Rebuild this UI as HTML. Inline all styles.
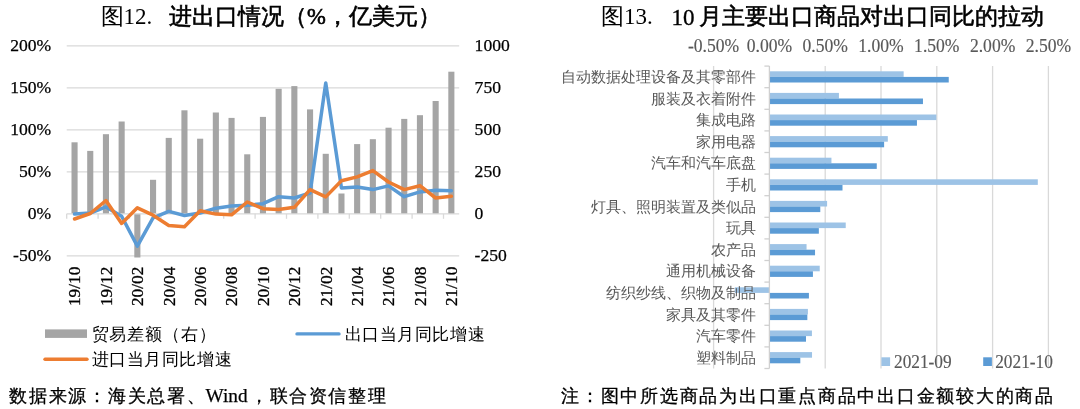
<!DOCTYPE html><html><head><meta charset="utf-8"><style>html,body{margin:0;padding:0;background:#fff;width:1080px;height:409px;overflow:hidden}svg{display:block;will-change:transform}</style></head><body>
<svg width="1080" height="409" viewBox="0 0 1080 409">
<text x="100.5" y="24.4" font-family="'Liberation Serif', serif" font-size="23" fill="#000">图12.</text>
<text x="169" y="23.7" font-family="'Liberation Sans', sans-serif" font-size="22.6" font-weight="400" stroke="#000" stroke-width="0.6" fill="#000">进出口情况（<tspan font-family="'Liberation Serif', serif">%</tspan>，亿美元）</text>
<line x1="66.7" x2="459.2" y1="45.8" y2="45.8" stroke="#d9d9d9" stroke-width="1.3"/>
<line x1="66.7" x2="459.2" y1="87.8" y2="87.8" stroke="#d9d9d9" stroke-width="1.3"/>
<line x1="66.7" x2="459.2" y1="129.8" y2="129.8" stroke="#d9d9d9" stroke-width="1.3"/>
<line x1="66.7" x2="459.2" y1="171.8" y2="171.8" stroke="#d9d9d9" stroke-width="1.3"/>
<line x1="66.7" x2="459.2" y1="255.8" y2="255.8" stroke="#d9d9d9" stroke-width="1.3"/>
<rect x="71.50" y="142.3" width="6.1" height="71.50" fill="#a5a5a5"/>
<rect x="87.20" y="150.9" width="6.1" height="62.90" fill="#a5a5a5"/>
<rect x="102.90" y="134.2" width="6.1" height="79.60" fill="#a5a5a5"/>
<rect x="118.60" y="121.5" width="6.1" height="92.30" fill="#a5a5a5"/>
<rect x="134.30" y="213.8" width="6.1" height="43.70" fill="#a5a5a5"/>
<rect x="150.00" y="179.8" width="6.1" height="34.00" fill="#a5a5a5"/>
<rect x="165.70" y="137.9" width="6.1" height="75.90" fill="#a5a5a5"/>
<rect x="181.40" y="110.3" width="6.1" height="103.50" fill="#a5a5a5"/>
<rect x="197.10" y="138.7" width="6.1" height="75.10" fill="#a5a5a5"/>
<rect x="212.80" y="112.5" width="6.1" height="101.30" fill="#a5a5a5"/>
<rect x="228.50" y="117.9" width="6.1" height="95.90" fill="#a5a5a5"/>
<rect x="244.20" y="154.3" width="6.1" height="59.50" fill="#a5a5a5"/>
<rect x="259.90" y="116.9" width="6.1" height="96.90" fill="#a5a5a5"/>
<rect x="275.60" y="88.8" width="6.1" height="125.00" fill="#a5a5a5"/>
<rect x="291.30" y="86.1" width="6.1" height="127.70" fill="#a5a5a5"/>
<rect x="307.00" y="109.4" width="6.1" height="104.40" fill="#a5a5a5"/>
<rect x="322.70" y="153.8" width="6.1" height="60.00" fill="#a5a5a5"/>
<rect x="338.40" y="193.5" width="6.1" height="20.30" fill="#a5a5a5"/>
<rect x="354.10" y="144.1" width="6.1" height="69.70" fill="#a5a5a5"/>
<rect x="369.80" y="139.2" width="6.1" height="74.60" fill="#a5a5a5"/>
<rect x="385.50" y="127.7" width="6.1" height="86.10" fill="#a5a5a5"/>
<rect x="401.20" y="118.9" width="6.1" height="94.90" fill="#a5a5a5"/>
<rect x="416.90" y="115.2" width="6.1" height="98.60" fill="#a5a5a5"/>
<rect x="432.60" y="101" width="6.1" height="112.80" fill="#a5a5a5"/>
<rect x="448.30" y="71.7" width="6.1" height="142.10" fill="#a5a5a5"/>
<line x1="66.7" x2="459.2" y1="213.8" y2="213.8" stroke="#d9d9d9" stroke-width="1.3"/>
<line x1="66.70" x2="66.70" y1="213.8" y2="218.8" stroke="#d9d9d9" stroke-width="1.3"/>
<line x1="98.10" x2="98.10" y1="213.8" y2="218.8" stroke="#d9d9d9" stroke-width="1.3"/>
<line x1="129.50" x2="129.50" y1="213.8" y2="218.8" stroke="#d9d9d9" stroke-width="1.3"/>
<line x1="160.90" x2="160.90" y1="213.8" y2="218.8" stroke="#d9d9d9" stroke-width="1.3"/>
<line x1="192.30" x2="192.30" y1="213.8" y2="218.8" stroke="#d9d9d9" stroke-width="1.3"/>
<line x1="223.70" x2="223.70" y1="213.8" y2="218.8" stroke="#d9d9d9" stroke-width="1.3"/>
<line x1="255.10" x2="255.10" y1="213.8" y2="218.8" stroke="#d9d9d9" stroke-width="1.3"/>
<line x1="286.50" x2="286.50" y1="213.8" y2="218.8" stroke="#d9d9d9" stroke-width="1.3"/>
<line x1="317.90" x2="317.90" y1="213.8" y2="218.8" stroke="#d9d9d9" stroke-width="1.3"/>
<line x1="349.30" x2="349.30" y1="213.8" y2="218.8" stroke="#d9d9d9" stroke-width="1.3"/>
<line x1="380.70" x2="380.70" y1="213.8" y2="218.8" stroke="#d9d9d9" stroke-width="1.3"/>
<line x1="412.10" x2="412.10" y1="213.8" y2="218.8" stroke="#d9d9d9" stroke-width="1.3"/>
<line x1="443.50" x2="443.50" y1="213.8" y2="218.8" stroke="#d9d9d9" stroke-width="1.3"/>
<polyline points="74.55,214.1 90.25,213 105.95,206.9 121.65,216.3 137.35,246.1 153.05,217.9 168.75,211.4 184.45,215.5 200.15,213 215.85,208.2 231.55,206 247.25,205.3 262.95,203.7 278.65,196.7 294.35,198 310.05,193 325.75,83 341.45,187.9 357.15,187 372.85,189.6 388.55,185.9 404.25,196.7 419.95,191.9 435.65,190.3 451.35,190.7" fill="none" stroke="#5b9bd5" stroke-width="3.5" stroke-linejoin="round" stroke-linecap="round"/>
<polyline points="74.55,219 90.25,213.5 105.95,200.5 121.65,223.4 137.35,207.8 153.05,215.2 168.75,225.5 184.45,226.7 200.15,210.8 215.85,214.1 231.55,214.8 247.25,202 262.95,208.7 278.65,209.6 294.35,207.3 310.05,189.6 325.75,196.9 341.45,180.8 357.15,176.9 372.85,170.6 388.55,182 404.25,189.6 419.95,185.7 435.65,198 451.35,196.3" fill="none" stroke="#ed7d31" stroke-width="3.5" stroke-linejoin="round" stroke-linecap="round"/>
<text transform="translate(51.2,51.2) scale(1,1.0)" text-anchor="end" font-family="'Liberation Serif', serif" font-size="17.6" stroke="#000" stroke-width="0.25" fill="#000">200%</text>
<text transform="translate(474.6,51.2) scale(1,1.0)" font-family="'Liberation Serif', serif" font-size="17.6" stroke="#000" stroke-width="0.25" fill="#000">1000</text>
<text transform="translate(51.2,93.2) scale(1,1.0)" text-anchor="end" font-family="'Liberation Serif', serif" font-size="17.6" stroke="#000" stroke-width="0.25" fill="#000">150%</text>
<text transform="translate(474.6,93.2) scale(1,1.0)" font-family="'Liberation Serif', serif" font-size="17.6" stroke="#000" stroke-width="0.25" fill="#000">750</text>
<text transform="translate(51.2,135.2) scale(1,1.0)" text-anchor="end" font-family="'Liberation Serif', serif" font-size="17.6" stroke="#000" stroke-width="0.25" fill="#000">100%</text>
<text transform="translate(474.6,135.2) scale(1,1.0)" font-family="'Liberation Serif', serif" font-size="17.6" stroke="#000" stroke-width="0.25" fill="#000">500</text>
<text transform="translate(51.2,177.2) scale(1,1.0)" text-anchor="end" font-family="'Liberation Serif', serif" font-size="17.6" stroke="#000" stroke-width="0.25" fill="#000">50%</text>
<text transform="translate(474.6,177.2) scale(1,1.0)" font-family="'Liberation Serif', serif" font-size="17.6" stroke="#000" stroke-width="0.25" fill="#000">250</text>
<text transform="translate(51.2,219.2) scale(1,1.0)" text-anchor="end" font-family="'Liberation Serif', serif" font-size="17.6" stroke="#000" stroke-width="0.25" fill="#000">0%</text>
<text transform="translate(474.6,219.2) scale(1,1.0)" font-family="'Liberation Serif', serif" font-size="17.6" stroke="#000" stroke-width="0.25" fill="#000">0</text>
<text transform="translate(51.2,261.2) scale(1,1.0)" text-anchor="end" font-family="'Liberation Serif', serif" font-size="17.6" stroke="#000" stroke-width="0.25" fill="#000">-50%</text>
<text transform="translate(474.6,261.2) scale(1,1.0)" font-family="'Liberation Serif', serif" font-size="17.6" stroke="#000" stroke-width="0.25" fill="#000">-250</text>
<text transform="translate(80.35,266.7) rotate(-90)" text-anchor="end" font-family="'Liberation Serif', serif" font-size="17.3" stroke="#000" stroke-width="0.3" fill="#000">19/10</text>
<text transform="translate(111.75,266.7) rotate(-90)" text-anchor="end" font-family="'Liberation Serif', serif" font-size="17.3" stroke="#000" stroke-width="0.3" fill="#000">19/12</text>
<text transform="translate(143.15,266.7) rotate(-90)" text-anchor="end" font-family="'Liberation Serif', serif" font-size="17.3" stroke="#000" stroke-width="0.3" fill="#000">20/02</text>
<text transform="translate(174.55,266.7) rotate(-90)" text-anchor="end" font-family="'Liberation Serif', serif" font-size="17.3" stroke="#000" stroke-width="0.3" fill="#000">20/04</text>
<text transform="translate(205.95,266.7) rotate(-90)" text-anchor="end" font-family="'Liberation Serif', serif" font-size="17.3" stroke="#000" stroke-width="0.3" fill="#000">20/06</text>
<text transform="translate(237.35,266.7) rotate(-90)" text-anchor="end" font-family="'Liberation Serif', serif" font-size="17.3" stroke="#000" stroke-width="0.3" fill="#000">20/08</text>
<text transform="translate(268.75,266.7) rotate(-90)" text-anchor="end" font-family="'Liberation Serif', serif" font-size="17.3" stroke="#000" stroke-width="0.3" fill="#000">20/10</text>
<text transform="translate(300.15,266.7) rotate(-90)" text-anchor="end" font-family="'Liberation Serif', serif" font-size="17.3" stroke="#000" stroke-width="0.3" fill="#000">20/12</text>
<text transform="translate(331.55,266.7) rotate(-90)" text-anchor="end" font-family="'Liberation Serif', serif" font-size="17.3" stroke="#000" stroke-width="0.3" fill="#000">21/02</text>
<text transform="translate(362.95,266.7) rotate(-90)" text-anchor="end" font-family="'Liberation Serif', serif" font-size="17.3" stroke="#000" stroke-width="0.3" fill="#000">21/04</text>
<text transform="translate(394.35,266.7) rotate(-90)" text-anchor="end" font-family="'Liberation Serif', serif" font-size="17.3" stroke="#000" stroke-width="0.3" fill="#000">21/06</text>
<text transform="translate(425.75,266.7) rotate(-90)" text-anchor="end" font-family="'Liberation Serif', serif" font-size="17.3" stroke="#000" stroke-width="0.3" fill="#000">21/08</text>
<text transform="translate(457.15,266.7) rotate(-90)" text-anchor="end" font-family="'Liberation Serif', serif" font-size="17.3" stroke="#000" stroke-width="0.3" fill="#000">21/10</text>
<rect x="45" y="329.4" width="42" height="8.5" fill="#a5a5a5"/>
<text x="91.5" y="339.8" font-family="'Liberation Serif', serif" font-size="17" textLength="124" lengthAdjust="spacing" fill="#000">贸易差额（右）</text>
<line x1="297" x2="339" y1="333.9" y2="333.9" stroke="#5b9bd5" stroke-width="3.4" stroke-linecap="round"/>
<text x="344.5" y="339.8" font-family="'Liberation Serif', serif" font-size="17" textLength="140" lengthAdjust="spacing" fill="#000">出口当月同比增速</text>
<line x1="45" x2="87" y1="359.2" y2="359.2" stroke="#ed7d31" stroke-width="3.4" stroke-linecap="round"/>
<text x="91.5" y="365.1" font-family="'Liberation Serif', serif" font-size="17" textLength="140" lengthAdjust="spacing" fill="#000">进口当月同比增速</text>
<text x="9" y="402" font-family="'Liberation Serif', serif" font-size="18" stroke="#000" stroke-width="0.3" textLength="196" lengthAdjust="spacing" fill="#000">数据来源：海关总署、</text>
<text x="205.5" y="402" font-family="'Liberation Serif', serif" font-size="19.3" stroke="#000" stroke-width="0.25" fill="#000">Wind</text>
<text x="250" y="402" font-family="'Liberation Serif', serif" font-size="18" stroke="#000" stroke-width="0.3" textLength="135.5" lengthAdjust="spacing" fill="#000">，联合资信整理</text>
<text x="601" y="24.4" font-family="'Liberation Serif', serif" font-size="23" fill="#000">图13.</text>
<text x="671.5" y="24.6" font-family="'Liberation Serif', serif" font-size="23" stroke="#000" stroke-width="0.35" fill="#000">10</text>
<text x="699" y="23.7" font-family="'Liberation Sans', sans-serif" font-size="22.9" font-weight="400" stroke="#000" stroke-width="0.6" fill="#000">月主要出口商品对出口同比的拉动</text>
<line x1="713.60" x2="713.60" y1="66.1" y2="368.5" stroke="#d9d9d9" stroke-width="1.3"/>
<text transform="translate(713.60,51.5) scale(1,1.08)" text-anchor="middle" font-family="'Liberation Serif', serif" font-size="17.6" stroke="#595959" stroke-width="0.15" fill="#595959">-0.50%</text>
<text transform="translate(769.40,51.5) scale(1,1.08)" text-anchor="middle" font-family="'Liberation Serif', serif" font-size="17.6" stroke="#595959" stroke-width="0.15" fill="#595959">0.00%</text>
<line x1="825.20" x2="825.20" y1="66.1" y2="368.5" stroke="#d9d9d9" stroke-width="1.3"/>
<text transform="translate(825.20,51.5) scale(1,1.08)" text-anchor="middle" font-family="'Liberation Serif', serif" font-size="17.6" stroke="#595959" stroke-width="0.15" fill="#595959">0.50%</text>
<line x1="881.00" x2="881.00" y1="66.1" y2="368.5" stroke="#d9d9d9" stroke-width="1.3"/>
<text transform="translate(881.00,51.5) scale(1,1.08)" text-anchor="middle" font-family="'Liberation Serif', serif" font-size="17.6" stroke="#595959" stroke-width="0.15" fill="#595959">1.00%</text>
<line x1="936.80" x2="936.80" y1="66.1" y2="368.5" stroke="#d9d9d9" stroke-width="1.3"/>
<text transform="translate(936.80,51.5) scale(1,1.08)" text-anchor="middle" font-family="'Liberation Serif', serif" font-size="17.6" stroke="#595959" stroke-width="0.15" fill="#595959">1.50%</text>
<line x1="992.60" x2="992.60" y1="66.1" y2="368.5" stroke="#d9d9d9" stroke-width="1.3"/>
<text transform="translate(992.60,51.5) scale(1,1.08)" text-anchor="middle" font-family="'Liberation Serif', serif" font-size="17.6" stroke="#595959" stroke-width="0.15" fill="#595959">2.00%</text>
<line x1="1048.40" x2="1048.40" y1="66.1" y2="368.5" stroke="#d9d9d9" stroke-width="1.3"/>
<text transform="translate(1048.40,51.5) scale(1,1.08)" text-anchor="middle" font-family="'Liberation Serif', serif" font-size="17.6" stroke="#595959" stroke-width="0.15" fill="#595959">2.50%</text>
<rect x="769.40" y="71.30" width="134.25" height="5.6" fill="#9dc3e6"/>
<rect x="769.40" y="76.90" width="179.34" height="5.6" fill="#5b9bd5"/>
<rect x="769.40" y="92.90" width="69.53" height="5.6" fill="#9dc3e6"/>
<rect x="769.40" y="98.50" width="153.56" height="5.6" fill="#5b9bd5"/>
<rect x="769.40" y="114.50" width="166.95" height="5.6" fill="#9dc3e6"/>
<rect x="769.40" y="120.10" width="147.54" height="5.6" fill="#5b9bd5"/>
<rect x="769.40" y="136.10" width="118.41" height="5.6" fill="#9dc3e6"/>
<rect x="769.40" y="141.70" width="114.72" height="5.6" fill="#5b9bd5"/>
<rect x="769.40" y="157.70" width="62.05" height="5.6" fill="#9dc3e6"/>
<rect x="769.40" y="163.30" width="107.36" height="5.6" fill="#5b9bd5"/>
<rect x="769.40" y="179.30" width="268.40" height="5.6" fill="#9dc3e6"/>
<rect x="769.40" y="184.90" width="73.10" height="5.6" fill="#5b9bd5"/>
<rect x="769.40" y="200.90" width="57.70" height="5.6" fill="#9dc3e6"/>
<rect x="769.40" y="206.50" width="50.89" height="5.6" fill="#5b9bd5"/>
<rect x="769.40" y="222.50" width="76.33" height="5.6" fill="#9dc3e6"/>
<rect x="769.40" y="228.10" width="49.44" height="5.6" fill="#5b9bd5"/>
<rect x="769.40" y="244.10" width="37.16" height="5.6" fill="#9dc3e6"/>
<rect x="769.40" y="249.70" width="45.64" height="5.6" fill="#5b9bd5"/>
<rect x="769.40" y="265.70" width="50.33" height="5.6" fill="#9dc3e6"/>
<rect x="769.40" y="271.30" width="43.52" height="5.6" fill="#5b9bd5"/>
<rect x="734.80" y="287.30" width="34.60" height="5.6" fill="#9dc3e6"/>
<rect x="769.40" y="292.90" width="39.51" height="5.6" fill="#5b9bd5"/>
<rect x="769.40" y="308.90" width="38.50" height="5.6" fill="#9dc3e6"/>
<rect x="769.40" y="314.50" width="37.94" height="5.6" fill="#5b9bd5"/>
<rect x="769.40" y="330.50" width="42.52" height="5.6" fill="#9dc3e6"/>
<rect x="769.40" y="336.10" width="36.60" height="5.6" fill="#5b9bd5"/>
<rect x="769.40" y="352.10" width="42.63" height="5.6" fill="#9dc3e6"/>
<rect x="769.40" y="357.70" width="30.91" height="5.6" fill="#5b9bd5"/>
<text x="755.5" y="81.9" text-anchor="end" font-family="'Liberation Serif', serif" font-size="15.1" fill="#595959">自动数据处理设备及其零部件</text>
<text x="755.5" y="103.5" text-anchor="end" font-family="'Liberation Serif', serif" font-size="15.1" fill="#595959">服装及衣着附件</text>
<text x="755.5" y="125.1" text-anchor="end" font-family="'Liberation Serif', serif" font-size="15.1" fill="#595959">集成电路</text>
<text x="755.5" y="146.7" text-anchor="end" font-family="'Liberation Serif', serif" font-size="15.1" fill="#595959">家用电器</text>
<text x="755.5" y="168.3" text-anchor="end" font-family="'Liberation Serif', serif" font-size="15.1" fill="#595959">汽车和汽车底盘</text>
<text x="755.5" y="189.9" text-anchor="end" font-family="'Liberation Serif', serif" font-size="15.1" fill="#595959">手机</text>
<text x="755.5" y="211.5" text-anchor="end" font-family="'Liberation Serif', serif" font-size="15.1" fill="#595959">灯具、照明装置及类似品</text>
<text x="755.5" y="233.1" text-anchor="end" font-family="'Liberation Serif', serif" font-size="15.1" fill="#595959">玩具</text>
<text x="755.5" y="254.7" text-anchor="end" font-family="'Liberation Serif', serif" font-size="15.1" fill="#595959">农产品</text>
<text x="755.5" y="276.3" text-anchor="end" font-family="'Liberation Serif', serif" font-size="15.1" fill="#595959">通用机械设备</text>
<text x="755.5" y="297.9" text-anchor="end" font-family="'Liberation Serif', serif" font-size="15.1" fill="#595959">纺织纱线、织物及制品</text>
<text x="755.5" y="319.5" text-anchor="end" font-family="'Liberation Serif', serif" font-size="15.1" fill="#595959">家具及其零件</text>
<text x="755.5" y="341.1" text-anchor="end" font-family="'Liberation Serif', serif" font-size="15.1" fill="#595959">汽车零件</text>
<text x="755.5" y="362.7" text-anchor="end" font-family="'Liberation Serif', serif" font-size="15.1" fill="#595959">塑料制品</text>
<line x1="769.4" x2="769.4" y1="66.1" y2="368.5" stroke="#d0d0d0" stroke-width="1.3"/>
<line x1="764.4" x2="769.4" y1="66.10" y2="66.10" stroke="#d0d0d0" stroke-width="1.3"/>
<line x1="764.4" x2="769.4" y1="87.70" y2="87.70" stroke="#d0d0d0" stroke-width="1.3"/>
<line x1="764.4" x2="769.4" y1="109.30" y2="109.30" stroke="#d0d0d0" stroke-width="1.3"/>
<line x1="764.4" x2="769.4" y1="130.90" y2="130.90" stroke="#d0d0d0" stroke-width="1.3"/>
<line x1="764.4" x2="769.4" y1="152.50" y2="152.50" stroke="#d0d0d0" stroke-width="1.3"/>
<line x1="764.4" x2="769.4" y1="174.10" y2="174.10" stroke="#d0d0d0" stroke-width="1.3"/>
<line x1="764.4" x2="769.4" y1="195.70" y2="195.70" stroke="#d0d0d0" stroke-width="1.3"/>
<line x1="764.4" x2="769.4" y1="217.30" y2="217.30" stroke="#d0d0d0" stroke-width="1.3"/>
<line x1="764.4" x2="769.4" y1="238.90" y2="238.90" stroke="#d0d0d0" stroke-width="1.3"/>
<line x1="764.4" x2="769.4" y1="260.50" y2="260.50" stroke="#d0d0d0" stroke-width="1.3"/>
<line x1="764.4" x2="769.4" y1="282.10" y2="282.10" stroke="#d0d0d0" stroke-width="1.3"/>
<line x1="764.4" x2="769.4" y1="303.70" y2="303.70" stroke="#d0d0d0" stroke-width="1.3"/>
<line x1="764.4" x2="769.4" y1="325.30" y2="325.30" stroke="#d0d0d0" stroke-width="1.3"/>
<line x1="764.4" x2="769.4" y1="346.90" y2="346.90" stroke="#d0d0d0" stroke-width="1.3"/>
<line x1="764.4" x2="769.4" y1="368.50" y2="368.50" stroke="#d0d0d0" stroke-width="1.3"/>
<rect x="881.4" y="357.3" width="8.7" height="8.7" fill="#9dc3e6"/>
<text transform="translate(894,367.6) scale(1,1.07)" font-family="'Liberation Serif', serif" font-size="17.3" stroke="#595959" stroke-width="0.15" fill="#595959">2021-09</text>
<rect x="983.2" y="357.3" width="8.7" height="8.7" fill="#5b9bd5"/>
<text transform="translate(995.2,367.6) scale(1,1.07)" font-family="'Liberation Serif', serif" font-size="17.3" stroke="#595959" stroke-width="0.15" fill="#595959">2021-10</text>
<text x="561" y="402" font-family="'Liberation Serif', serif" font-size="18" stroke="#000" stroke-width="0.3" textLength="492" lengthAdjust="spacing" fill="#000">注：图中所选商品为出口重点商品中出口金额较大的商品</text>
</svg></body></html>
